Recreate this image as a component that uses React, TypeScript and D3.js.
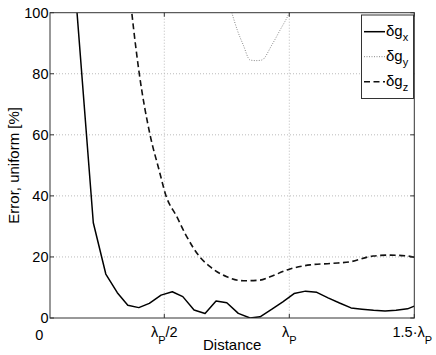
import React from "react";
import * as d3 from "d3";

// distance in units of lambda_P, error in percent
const gxDist = [0.139, 0.216, 0.266, 0.312, 0.354, 0.398, 0.44, 0.487, 0.532, 0.574, 0.619, 0.663, 0.707, 0.75, 0.796, 0.843, 0.883, 0.929, 0.974, 1.019, 1.065, 1.11, 1.155, 1.201, 1.247, 1.291, 1.337, 1.383, 1.427, 1.473, 1.5];
const gxErr = [112.6, 31.2, 14.4, 8.3, 4.2, 3.4, 4.8, 7.5, 8.6, 7.0, 2.6, 1.5, 5.6, 5.0, 1.5, 0.0, 0.4, 2.8, 5.3, 8.0, 8.8, 8.4, 6.6, 4.9, 3.3, 2.9, 2.5, 2.3, 2.5, 3.0, 3.9];

const gyDist = [0.755, 0.77, 0.792, 0.816, 0.843, 0.867, 0.89, 0.93, 0.963, 1.0, 1.01];
const gyErr = [104, 100, 94.3, 89.4, 84.5, 84.3, 84.5, 89.4, 94.3, 100, 102];

const gzDist = [0.355, 0.37, 0.4, 0.443, 0.479, 0.507, 0.55, 0.583, 0.643, 0.683, 0.75, 0.816, 0.883, 0.923, 1.0, 1.083, 1.175, 1.243, 1.335, 1.403, 1.463, 1.5];
const gzErr = [112, 100, 80, 60, 48.5, 40, 33.2, 27.7, 19.9, 16.8, 13.5, 12.2, 12.4, 13.5, 16.0, 17.4, 17.9, 18.4, 20.3, 20.6, 20.4, 19.9];

const yTicks = [0, 20, 40, 60, 80, 100];
const xTicks = [0, 0.5, 1, 1.5];
const xTickMain = ["0", "λ", "λ", "1.5·λ"];
const xTickSub = ["", "P", "P", "P"];
const xTickTail = ["", "/2", "", ""];
const legendNames = ["x", "y", "z"];

const W = 436, H = 355;
const left = 50, right = 414.3, top = 12.7, bottom = 318;
const font = "'Liberation Sans', Arial, sans-serif";

export default function App() {
  const x = d3.scaleLinear().domain([0, 1.5]).range([39.3, 414.3]);
  const y = d3.scaleLinear().domain([0, 100]).range([bottom, top]);

  const toPts = (xs: number[], ys: number[]) => xs.map((d, i) => [d, ys[i]] as [number, number]);
  const lineLin = d3.line<[number, number]>().x(d => x(d[0])).y(d => y(d[1]));
  const lineSmooth = d3.line<[number, number]>().x(d => x(d[0])).y(d => y(d[1])).curve(d3.curveMonotoneX);

  const styles = [
    { stroke: "#000", width: 1.5, dash: undefined as string | undefined },
    { stroke: "#888", width: 1, dash: "1,1.5" },
    { stroke: "#111", width: 1.6, dash: "6,3.5" },
  ];

  const lx = 361.5, ly = 15, lw = 52, lh = 83.5;

  return (
    <svg width={W} height={H} style={{ position: "absolute", left: 0, top: 0, background: "#fff" }} fontFamily={font}>
      <defs>
        <clipPath id="plotclip">
          <rect x={left} y={top} width={right - left} height={bottom - top} />
        </clipPath>
      </defs>
      <rect x={0} y={0} width={W} height={H} fill="#fff" />

      {/* grid */}
      {yTicks.filter(t => t > 0 && t < 100).map(t => (
        <line key={"gy" + t} x1={left} x2={right} y1={y(t)} y2={y(t)} stroke="#bbb" strokeWidth={1} strokeDasharray="1,2" />
      ))}
      {xTicks.filter(t => t > 0 && t < 1.5).map(t => (
        <line key={"gx" + t} x1={x(t)} x2={x(t)} y1={top} y2={bottom} stroke="#bbb" strokeWidth={1} strokeDasharray="1,2" />
      ))}

      {/* series */}
      <g clipPath="url(#plotclip)" fill="none">
        <path d={lineLin(toPts(gxDist, gxErr)) || ""} stroke={styles[0].stroke} strokeWidth={styles[0].width} strokeLinejoin="round" />
        <path d={lineSmooth(toPts(gyDist, gyErr)) || ""} stroke={styles[1].stroke} strokeWidth={styles[1].width} strokeDasharray={styles[1].dash} />
        <path d={lineSmooth(toPts(gzDist, gzErr)) || ""} stroke={styles[2].stroke} strokeWidth={styles[2].width} strokeDasharray={styles[2].dash} />
      </g>

      {/* axes box */}
      <rect x={left} y={top} width={right - left} height={bottom - top} fill="none" stroke="#333" strokeWidth={1} />
      {yTicks.map(t => (
        <g key={"yt" + t}>
          <line x1={left} x2={left + 4} y1={y(t)} y2={y(t)} stroke="#333" />
          <line x1={right - 4} x2={right} y1={y(t)} y2={y(t)} stroke="#333" />
          <text x={48.5} y={y(t) + 5} textAnchor="end" fontSize={14.5}>{t}</text>
        </g>
      ))}
      {xTicks.map((t, i) => (
        <g key={"xt" + t}>
          {t > 0.04 && <line x1={x(t)} x2={x(t)} y1={bottom} y2={bottom - 4} stroke="#333" />}
          {t > 0.04 && <line x1={x(t)} x2={x(t)} y1={top} y2={top + 4} stroke="#333" />}
          <text x={x(t) + (i === 3 ? -2 : 0)} y={i === 0 ? 340 : 337} textAnchor="middle" fontSize={14.5}>
            {xTickMain[i]}
            {xTickSub[i] && <tspan dy={7} fontSize={11}>{xTickSub[i]}</tspan>}
            {xTickTail[i] && <tspan dy={-7}>{xTickTail[i]}</tspan>}
          </text>
        </g>
      ))}

      <text x={(left + right) / 2} y={350} textAnchor="middle" fontSize={15}>Distance</text>
      <text transform={`translate(19,${(top + bottom) / 2}) rotate(-90)`} textAnchor="middle" fontSize={15}>Error, uniform [%]</text>

      {/* legend */}
      <rect x={lx} y={ly} width={lw} height={lh} fill="#fff" stroke="#333" strokeWidth={1} />
      {legendNames.map((n, i) => {
        const ry = 31.7 + i * 25;
        return (
          <g key={"lg" + n}>
            <line x1={364} x2={385} y1={ry} y2={ry} stroke={styles[i].stroke} strokeWidth={styles[i].width} strokeDasharray={styles[i].dash} />
            <text x={386} y={ry + 3.8} fontSize={15}>
              δg<tspan dy={5.5} fontSize={11}>{n}</tspan>
            </text>
          </g>
        );
      })}
    </svg>
  );
}
